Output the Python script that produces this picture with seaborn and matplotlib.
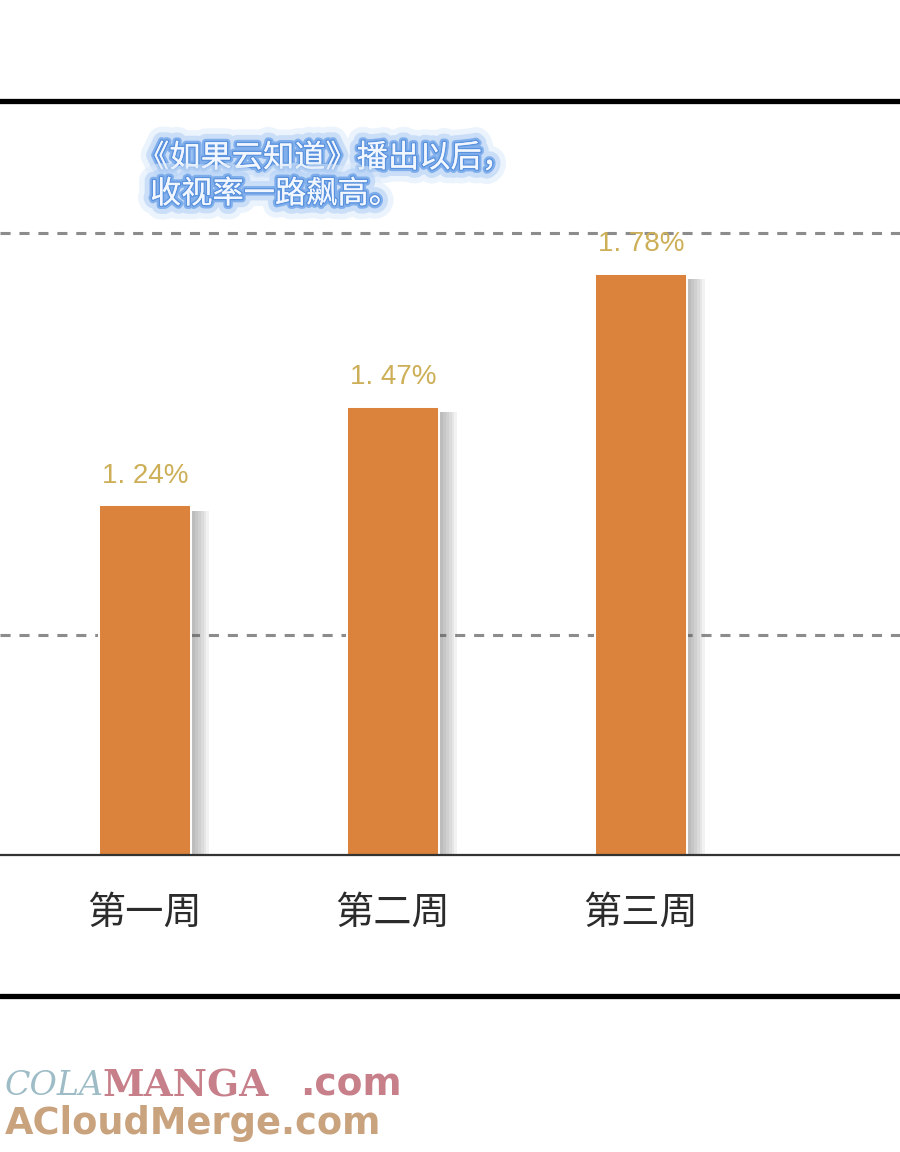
import matplotlib
matplotlib.use("Agg")
import matplotlib.pyplot as plt
import matplotlib.patheffects as pe
from matplotlib.lines import Line2D
import seaborn as sns
import pandas as pd

weeks = ["第一周", "第二周", "第三周"]
ratings = [1.24, 1.47, 1.78]
title_lines = ["《如果云知道》播出以后，", "收视率一路飙高。"]

sns.set_style("white")
plt.rcParams['font.family'] = ['Noto Sans CJK SC', 'DejaVu Sans']

df = pd.DataFrame({"week": weeks, "rating": ratings})

fig = plt.figure(figsize=(9, 11.52), dpi=100)
fig.patch.set_facecolor("white")
W, H = 900, 1152
ax = fig.add_axes([0, (H - 855) / H, 1, (855 - 101) / H])

sns.barplot(data=df, x="week", y="rating", color="#DB833D", saturation=1,
            width=0.371, ax=ax, edgecolor="white", linewidth=1.4)

# soft shadow to the right of each bar
shadow = [pe.SimplePatchShadow(offset=(o, -4), shadow_rgbFace="#5a5a5a", alpha=0.08)
          for o in (3, 5, 7, 9, 11, 13)]
for p in ax.patches:
    p.set_path_effects(shadow + [pe.Normal()])

ax.set_xlim(-0.585, 3.044)
ax.set_ylim(0.425, 2.182)

# dashed reference lines
ax.set_yticks([0.937, 1.875])
ax.yaxis.grid(True, linestyle=(0, (3.3, 2.9)), color="#8c8c8c", linewidth=2.2)
ax.xaxis.grid(False)
ax.set_axisbelow(True)
ax.tick_params(axis="y", left=False, labelleft=False)
ax.tick_params(axis="x", length=0, pad=28, labelsize=27.5, labelcolor="#2b2b2b")
ax.set_xlabel("")
ax.set_ylabel("")

for s in ("left", "right"):
    ax.spines[s].set_visible(False)
ax.spines["bottom"].set_color("#333333")
ax.spines["bottom"].set_linewidth(1.6)
ax.spines["top"].set_color("black")
ax.spines["top"].set_linewidth(3.8)

# value labels
for i, v in enumerate(ratings):
    ax.annotate(f"{v:.2f}%".replace(".", ". "), (i, v), xytext=(0, 12),
                textcoords="offset points", ha="center", va="bottom",
                fontsize=20, color="#CDAF58", family="Liberation Sans")

# bottom frame line
fig.add_artist(Line2D([0, 1], [1 - 996 / H, 1 - 996 / H], color="black",
                      linewidth=3.8, transform=fig.transFigure))

# glowing title
glow = [pe.withStroke(linewidth=20, foreground="#DCEAFB", alpha=0.55),
        pe.withStroke(linewidth=12, foreground="#B4D1F6", alpha=0.6),
        pe.withStroke(linewidth=5, foreground="#78AAEA", alpha=0.9),
        pe.withStroke(linewidth=2, foreground="#5A92DE"),
        pe.Normal()]
fig.text(138 / W, 1 - 158 / H, title_lines[0], fontsize=22.5, color="#F2F7FF",
         ha="left", va="center", path_effects=glow)
fig.text(150 / W, 1 - 194 / H, title_lines[1], fontsize=22.5, color="#F2F7FF",
         ha="left", va="center", path_effects=glow)

# watermark
fig.text(5 / W, 1 - 1086 / H, "COLA", fontsize=24, color="#9DBCC6",
         family="DejaVu Serif", style="italic", ha="left", va="center")
fig.text(102 / W, 1 - 1086 / H, "MANGA", fontsize=27, color="#C77F8A",
         family="DejaVu Serif", fontweight="bold", ha="left", va="center")
fig.text(300 / W, 1 - 1086 / H, ".com", fontsize=27, color="#C77F8A",
         family="DejaVu Sans", fontweight="bold", ha="left", va="center")
fig.text(5 / W, 1 - 1124 / H, "ACloudMerge.com", fontsize=26.5, color="#C9A27E",
         family="DejaVu Sans", fontweight="bold", ha="left", va="center")

fig.savefig("out.png", dpi=100, facecolor="white")
